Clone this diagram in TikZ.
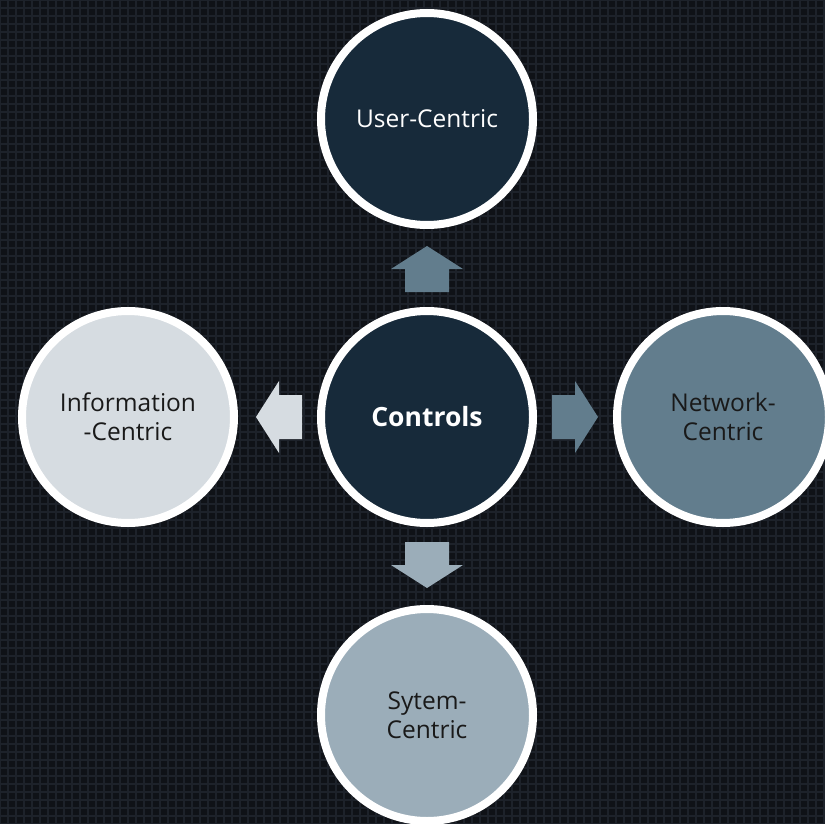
\documentclass[tikz,border=0pt]{standalone}
\usepackage{fontspec}
\setmainfont{Open Sans}
\definecolor{bgc}{HTML}{0F1217}
\definecolor{gridc}{HTML}{1D222A}
\definecolor{navy}{HTML}{172A3A}
\definecolor{steel}{HTML}{627D8D}
\definecolor{silver}{HTML}{9BADB9}
\definecolor{pale}{HTML}{D6DCE1}
\begin{document}
\begin{tikzpicture}[x=1pt,y=-1pt,
  ball/.style={circle,draw=white,line width=8pt,minimum size=212pt,inner sep=0pt,align=center,font=\fontsize{24.5}{29}\selectfont},
  arr/.style={draw=none}]
\useasboundingbox (0,0) rectangle (824,824);
\fill[bgc] (0,0) rectangle (824,824);
\foreach \i in {0,8,...,824}{
  \draw[gridc,line width=1.5pt] (\i,0) -- (\i,824);
  \draw[gridc,line width=1.5pt] (0,\i) -- (824,\i);
}
\node[ball,fill=navy,text=white,font=\fontsize{26.5}{29}\selectfont\bfseries] (c) at (427,417) {Controls};
\node[ball,fill=navy,text=white] (u) at (427,119) {User-Centric};
\node[ball,fill=pale,text=black!90] (i) at (128,417) {Information\\-Centric};
\node[ball,fill=steel,text=black!90] (n) at (723,417) {Network-\\Centric};
\node[ball,fill=silver,text=black!90] (s) at (427,715) {Sytem-\\Centric};
% arrows
\fill[steel] ([shift={(-22,-125)}]c.center) -- ++(0,-23) -- ++(-14,0) -- ([shift={(0,-171)}]c.center) -- ([shift={(36,-148)}]c.center) -- ++(-14,0) -- ([shift={(22,-125)}]c.center) -- cycle;
\fill[silver] ([shift={(-22,125)}]c.center) -- ++(0,23) -- ++(-14,0) -- ([shift={(0,171)}]c.center) -- ([shift={(36,148)}]c.center) -- ++(-14,0) -- ([shift={(22,125)}]c.center) -- cycle;
\fill[pale] ([shift={(-125,-22)}]c.center) -- ++(-23,0) -- ++(0,-14) -- ([shift={(-171,0)}]c.center) -- ([shift={(-148,36)}]c.center) -- ++(0,-14) -- ([shift={(-125,22)}]c.center) -- cycle;
\fill[steel] ([shift={(125,-22)}]c.center) -- ++(23,0) -- ++(0,-14) -- ([shift={(171,0)}]c.center) -- ([shift={(148,36)}]c.center) -- ++(0,-14) -- ([shift={(125,22)}]c.center) -- cycle;
\end{tikzpicture}
\end{document}
